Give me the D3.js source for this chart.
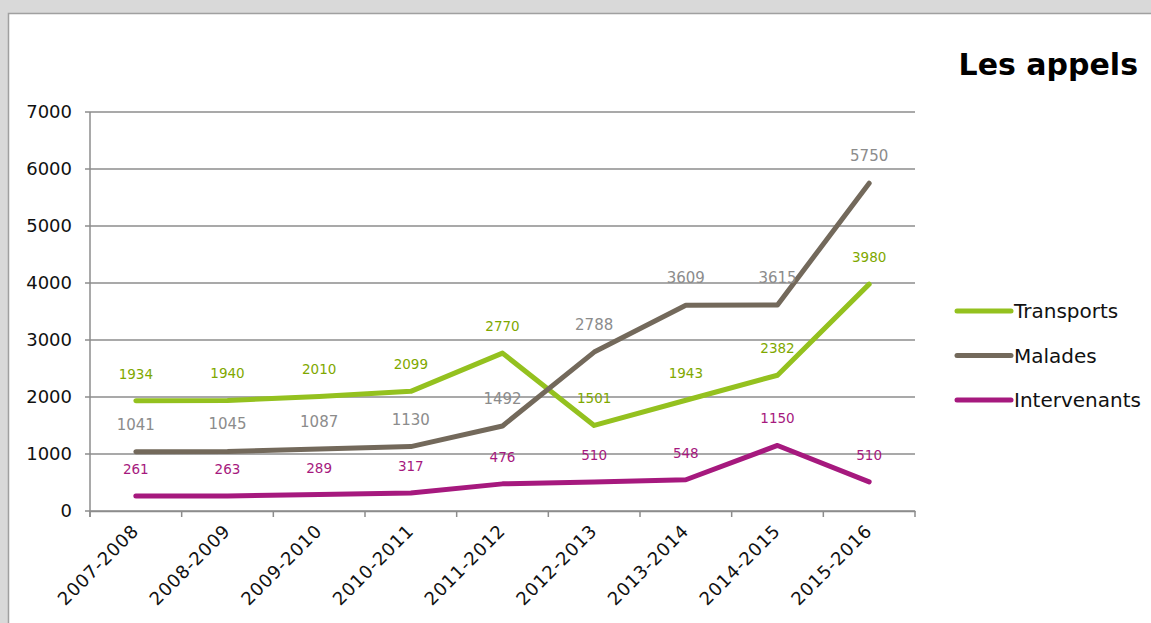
<!DOCTYPE html>
<html>
<head>
<meta charset="utf-8">
<script src="https://cdn.jsdelivr.net/npm/d3@7"></script>
<style>
  html, body { margin: 0; padding: 0; background: #d9d9d9; }
  svg { display: block; font-family: "DejaVu Sans", "Lato", sans-serif; }
</style>
</head>
<body>
<svg id="chart" width="1151" height="623"></svg>
<script>
// données du graphique
const seasons = ["2007-2008", "2008-2009", "2009-2010", "2010-2011", "2011-2012",
                 "2012-2013", "2013-2014", "2014-2015", "2015-2016"];
const transports = [1934, 1940, 2010, 2099, 2770, 1501, 1943, 2382, 3980];
const malades = [1041, 1045, 1087, 1130, 1492, 2788, 3609, 3615, 5750];
const intervenants = [261, 263, 289, 317, 476, 510, 548, 1150, 510];
const yTicks = [0, 1000, 2000, 3000, 4000, 5000, 6000, 7000];

const series = [
    { name: "Transports", values: transports, color: "#94c11f", label: "#7fa800", size: 13.5 },
    { name: "Malades", values: malades, color: "#73695b", label: "#8c8c8c", size: 15 },
    { name: "Intervenants", values: intervenants, color: "#a6197e", label: "#a6197e", size: 13.5 }
];

const svg = d3.select("#chart");

// cadre blanc
svg.append("rect")
    .attr("x", 8.5).attr("y", 13.5)
    .attr("width", 1160).attr("height", 640)
    .attr("fill", "#fff")
    .attr("stroke", "#a0a0a0")
    .attr("stroke-width", 1.5);

const plotLeft = 90, plotRight = 915, plotTop = 112, plotBottom = 511;

const x = d3.scaleBand().domain(seasons).range([plotLeft, plotRight]);
const y = d3.scaleLinear().domain([0, 7000]).range([plotBottom, plotTop]);

// grille
svg.append("g")
    .selectAll("line")
    .data(yTicks)
    .enter().append("line")
    .attr("x1", plotLeft - 5).attr("x2", plotRight)
    .attr("y1", d => y(d)).attr("y2", d => y(d))
    .attr("stroke", "#8c8c8c")
    .attr("stroke-width", 1.5);

// axe Y
svg.append("line")
    .attr("x1", plotLeft).attr("x2", plotLeft)
    .attr("y1", plotTop).attr("y2", plotBottom + 6)
    .attr("stroke", "#8c8c8c").attr("stroke-width", 1.5);

svg.append("g")
    .selectAll("text")
    .data(yTicks)
    .enter().append("text")
    .attr("x", plotLeft - 18)
    .attr("y", d => y(d))
    .attr("dy", "0.36em")
    .attr("text-anchor", "end")
    .attr("font-size", 18)
    .attr("fill", "#111")
    .text(d => d);

// axe X
const xAxis = svg.append("g")
    .attr("transform", `translate(0,${plotBottom})`)
    .call(d3.axisBottom(x).tickSize(0).tickFormat(""));
xAxis.select(".domain").attr("stroke", "#8c8c8c").attr("stroke-width", 1.5);

const bounds = seasons.map(s => x(s)).concat([plotRight]);
svg.append("g")
    .selectAll("line")
    .data(bounds)
    .enter().append("line")
    .attr("x1", d => d).attr("x2", d => d)
    .attr("y1", plotBottom).attr("y2", plotBottom + 6)
    .attr("stroke", "#8c8c8c").attr("stroke-width", 1.5);

svg.append("g")
    .selectAll("text")
    .data(seasons)
    .enter().append("text")
    .attr("transform", d => `translate(${x(d) + x.bandwidth() / 2 + 4},${plotBottom + 21}) rotate(-45)`)
    .attr("text-anchor", "end")
    .attr("font-size", 18)
    .attr("letter-spacing", 0.8)
    .attr("fill", "#111")
    .text(d => d);

// lignes
const line = d3.line()
    .x((d, i) => x(seasons[i]) + x.bandwidth() / 2)
    .y(d => y(d));

series.forEach(s => {
    svg.append("path")
        .datum(s.values)
        .attr("d", line)
        .attr("fill", "none")
        .attr("stroke", s.color)
        .attr("stroke-width", 5)
        .attr("stroke-linejoin", "round")
        .attr("stroke-linecap", "round");
});

// étiquettes de données
series.forEach(s => {
    svg.append("g")
        .selectAll("text")
        .data(s.values)
        .enter().append("text")
        .attr("x", (d, i) => x(seasons[i]) + x.bandwidth() / 2)
        .attr("y", d => y(d) - 22)
        .attr("text-anchor", "middle")
        .attr("font-size", s.size)
        .attr("fill", s.label)
        .text(d => d);
});

// titre
svg.append("text")
    .attr("x", 1138).attr("y", 75)
    .attr("text-anchor", "end")
    .attr("font-size", 30)
    .attr("font-weight", "bold")
    .attr("fill", "#000")
    .text("Les appels");

// légende
const legend = svg.append("g")
    .selectAll("g")
    .data(series)
    .enter().append("g")
    .attr("transform", (d, i) => `translate(957,${311 + i * 44.5})`);

legend.append("line")
    .attr("x1", 0).attr("x2", 54)
    .attr("stroke", d => d.color)
    .attr("stroke-width", 5)
    .attr("stroke-linecap", "round");

legend.append("text")
    .attr("x", 57)
    .attr("dy", "0.36em")
    .attr("font-size", 20)
    .attr("fill", "#111")
    .text(d => d.name);
</script>
</body>
</html>
